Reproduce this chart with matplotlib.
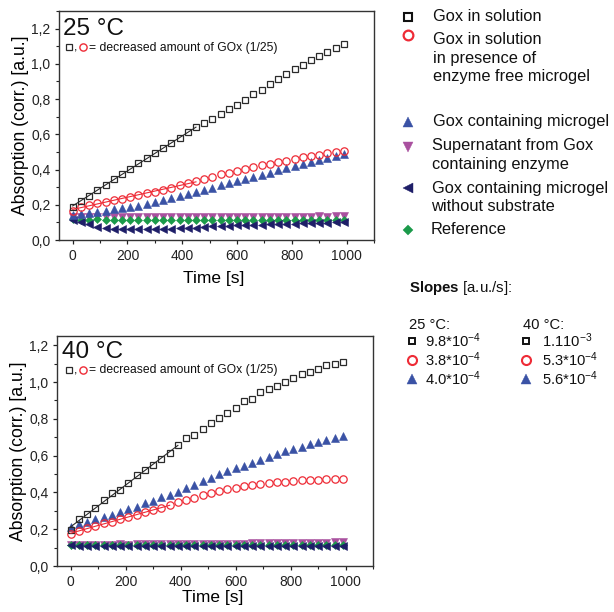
import numpy as np
import matplotlib
matplotlib.use("Agg")
import matplotlib.pyplot as plt
from matplotlib.ticker import FixedLocator, MultipleLocator

plt.rcParams['font.family'] = ['Liberation Sans', 'DejaVu Sans']
plt.rcParams['mathtext.fontset'] = 'custom'
plt.rcParams['mathtext.rm'] = 'Liberation Sans'
plt.rcParams['mathtext.bf'] = 'Liberation Sans:bold'
plt.rcParams['mathtext.default'] = 'regular'

# ---------------- data ----------------
time_s = [0, 30, 60, 90, 120, 150, 180, 210, 240, 270, 300, 330, 360, 390, 420, 450,
          480, 510, 540, 570, 600, 630, 660, 690, 720, 750, 780, 810, 840, 870, 900,
          930, 960, 990]

# 25 °C
gox_25 = [0.19, 0.224, 0.25, 0.285, 0.313, 0.345, 0.374, 0.402, 0.435, 0.463, 0.492, 0.52,
          0.55, 0.579, 0.611, 0.64, 0.664, 0.689, 0.718, 0.744, 0.769, 0.797, 0.826, 0.854,
          0.883, 0.912, 0.94, 0.968, 0.993, 1.02, 1.044, 1.07, 1.09, 1.11]
gox_free_25 = [0.167, 0.186, 0.2, 0.209, 0.218, 0.226, 0.233, 0.243, 0.256, 0.266, 0.275,
               0.285, 0.296, 0.31, 0.322, 0.335, 0.349, 0.36, 0.372, 0.38, 0.393, 0.403,
               0.412, 0.423, 0.433, 0.444, 0.45, 0.459, 0.469, 0.476, 0.484, 0.494, 0.497, 0.505]
gox_gel_25 = [0.142, 0.146, 0.153, 0.159, 0.167, 0.175, 0.18, 0.19, 0.195, 0.205, 0.215,
              0.226, 0.237, 0.247, 0.26, 0.272, 0.285, 0.298, 0.311, 0.321, 0.336, 0.345,
              0.357, 0.37, 0.383, 0.395, 0.406, 0.421, 0.431, 0.444, 0.456, 0.467, 0.478, 0.49]
super_25 = [0.128, 0.128, 0.129, 0.128, 0.129, 0.129, 0.13, 0.129, 0.13, 0.13, 0.13, 0.13,
            0.131, 0.13, 0.131, 0.131, 0.131, 0.131, 0.132, 0.131, 0.132, 0.132, 0.132, 0.132,
            0.133, 0.132, 0.133, 0.133, 0.133, 0.133, 0.134, 0.133, 0.134, 0.134]
nosub_25 = [0.114, 0.104, 0.089, 0.076, 0.066, 0.063, 0.061, 0.061, 0.061, 0.063, 0.063,
            0.065, 0.065, 0.066, 0.068, 0.07, 0.074, 0.077, 0.079, 0.081, 0.083, 0.084,
            0.086, 0.087, 0.089, 0.09, 0.092, 0.093, 0.095, 0.096, 0.098, 0.099, 0.101, 0.104]
ref_25 = [0.117, 0.116, 0.116, 0.117, 0.116, 0.116, 0.116, 0.115, 0.116, 0.116, 0.115,
          0.116, 0.116, 0.115, 0.116, 0.115, 0.115, 0.116, 0.115, 0.115, 0.116, 0.115,
          0.115, 0.115, 0.116, 0.115, 0.115, 0.114, 0.115, 0.115, 0.114, 0.115, 0.114, 0.114]

# 40 °C
gox_40 = [0.195, 0.254, 0.281, 0.317, 0.358, 0.395, 0.413, 0.449, 0.494, 0.521, 0.548,
          0.581, 0.615, 0.66, 0.693, 0.711, 0.742, 0.775, 0.805, 0.832, 0.86, 0.896, 0.91,
          0.943, 0.961, 0.979, 1.0, 1.022, 1.041, 1.055, 1.073, 1.091, 1.1, 1.106]
gox_free_40 = [0.174, 0.192, 0.205, 0.217, 0.232, 0.241, 0.254, 0.268, 0.277, 0.291, 0.304,
               0.317, 0.331, 0.346, 0.36, 0.371, 0.386, 0.398, 0.408, 0.417, 0.426, 0.434,
               0.44, 0.445, 0.45, 0.455, 0.459, 0.463, 0.465, 0.467, 0.469, 0.471, 0.472, 0.474]
gox_gel_40 = [0.213, 0.228, 0.241, 0.254, 0.264, 0.277, 0.295, 0.308, 0.322, 0.34, 0.355,
              0.373, 0.385, 0.403, 0.422, 0.44, 0.46, 0.478, 0.5, 0.515, 0.53, 0.546,
              0.562, 0.578, 0.592, 0.608, 0.623, 0.635, 0.648, 0.661, 0.672, 0.684, 0.697, 0.708]
super_40 = [0.115, 0.115, 0.116, 0.115, 0.116, 0.116, 0.117, 0.116, 0.117, 0.117, 0.118,
            0.117, 0.118, 0.118, 0.119, 0.119, 0.12, 0.12, 0.121, 0.121, 0.122, 0.122,
            0.123, 0.123, 0.124, 0.124, 0.125, 0.125, 0.126, 0.126, 0.127, 0.127, 0.128, 0.128]
nosub_40 = [0.112, 0.111, 0.111, 0.11, 0.111, 0.11, 0.111, 0.11, 0.11, 0.111, 0.11, 0.11,
            0.111, 0.11, 0.11, 0.111, 0.11, 0.11, 0.111, 0.11, 0.111, 0.11, 0.11, 0.111,
            0.11, 0.11, 0.111, 0.11, 0.11, 0.111, 0.11, 0.111, 0.11, 0.11]
ref_40 = [0.115, 0.115, 0.114, 0.115, 0.115, 0.114, 0.115, 0.115, 0.114, 0.115, 0.115,
          0.114, 0.115, 0.115, 0.114, 0.115, 0.115, 0.114, 0.115, 0.115, 0.114, 0.115,
          0.115, 0.114, 0.115, 0.115, 0.114, 0.115, 0.115, 0.114, 0.115, 0.115, 0.114, 0.114]

# number of initial points used for the linear fits
fit_points_25 = {"gox": 16, "gox_free": 16}
fit_points_40 = {"gox": 14, "gox_free": 13}

panel_titles = ["25 °C", "40 °C"]
note_text = "= decreased amount of GOx (1/25)"

y_ticks = [0.0, 0.2, 0.4, 0.6, 0.8, 1.0, 1.2]
y_tick_labels = ["0,0", "0,2", "0,4", "0,6", "0,8", "1,0", "1,2"]
x_ticks = [0, 200, 400, 600, 800, 1000]
x_tick_labels = ["0", "200", "400", "600", "800", "1000"]
x_label = "Time [s]"
y_label = "Absorption (corr.) [a.u.]"

legend_labels = ["Gox in solution",
                 "Gox in solution\nin presence of\nenzyme free microgel",
                 "Gox containing microgel",
                 "Supernatant from Gox\ncontaining enzyme",
                 "Gox containing microgel\nwithout substrate",
                 "Reference"]

slopes_title = r"$\bf{Slopes}$ [a.u./s]:"
slope_headers = ["25 °C:", "40 °C:"]
slopes_25 = [r"9.8*10$^{-4}$", r"3.8*10$^{-4}$", r"4.0*10$^{-4}$"]
slopes_40 = [r"1.110$^{-3}$", r"5.3*10$^{-4}$", r"5.6*10$^{-4}$"]

# ---------------- styles ----------------
C_BLACK = '#2a2a2a'
C_RED = '#ee2b36'
C_BLUE = '#3a52a5'
C_PURPLE = '#a9509f'
C_NAVY = '#1e1e68'
C_GREEN = '#1b9a4a'

styles = {
    "gox": dict(marker='s', mfc='none', mec=C_BLACK, ms=4.8, mew=0.9),
    "gox_free": dict(marker='o', mfc='none', mec=C_RED, ms=5.3, mew=0.9),
    "gox_gel": dict(marker='^', mfc=C_BLUE, mec=C_BLUE, ms=6.0, mew=0.4),
    "super": dict(marker='v', mfc=C_PURPLE, mec=C_PURPLE, ms=6.0, mew=0.4),
    "nosub": dict(marker='<', mfc=C_NAVY, mec=C_NAVY, ms=6.0, mew=0.4),
    "ref": dict(marker='D', mfc=C_GREEN, mec=C_GREEN, ms=4.4, mew=0.4),
}
fit_colors = {"gox": C_BLACK, "gox_free": C_RED}

W, H = 614, 612
fig = plt.figure(figsize=(W / 100, H / 100), dpi=100)


def fr(l, t, r, b):
    return [l / W, (H - b) / H, (r - l) / W, (b - t) / H]


ax1 = fig.add_axes(fr(59, 11, 374, 240))
ax2 = fig.add_axes(fr(57, 336, 373, 566))

panels = [
    (ax1, {"gox": gox_25, "gox_free": gox_free_25, "gox_gel": gox_gel_25,
           "super": super_25, "nosub": nosub_25, "ref": ref_25}, fit_points_25, 1.3),
    (ax2, {"gox": gox_40, "gox_free": gox_free_40, "gox_gel": gox_gel_40,
           "super": super_40, "nosub": nosub_40, "ref": ref_40}, fit_points_40, 1.25),
]

order = ["super", "ref", "nosub", "gox_gel", "gox_free", "gox"]
t_arr = np.array(time_s, dtype=float)
for ax, data, fits, ytop in panels:
    for key in order:
        ax.plot(time_s, data[key], linestyle='none', **styles[key])
    for key, n in fits.items():
        y = np.array(data[key])
        coef = np.polyfit(t_arr[:n], y[:n], 1)
        xs = np.array([t_arr[0], t_arr[n - 1]])
        ax.plot(xs, np.polyval(coef, xs), color=fit_colors[key], lw=0.8, zorder=3)
    ax.set_xlim(-50, 1100)
    ax.set_ylim(0, ytop)
    ax.xaxis.set_major_locator(FixedLocator(x_ticks))
    ax.set_xticklabels(x_tick_labels)
    ax.xaxis.set_minor_locator(MultipleLocator(100))
    ax.yaxis.set_major_locator(FixedLocator(y_ticks))
    ax.set_yticklabels(y_tick_labels)
    ax.yaxis.set_minor_locator(MultipleLocator(0.1))
    ax.tick_params(which='major', direction='out', length=3.2, width=0.9,
                   labelsize=10, colors='#222222', pad=3)
    ax.tick_params(which='minor', direction='out', length=2, width=0.8, colors='#222222')
    ax.tick_params(axis='x', which='both', top=False)
    ax.tick_params(axis='y', which='both', right=False)
    for s in ax.spines.values():
        s.set_linewidth(1.0)
        s.set_color('#333333')
    ax.set_xlabel(x_label, fontsize=12.5)
    ax.set_ylabel(y_label, fontsize=12.7)
    ax.yaxis.set_label_coords(-0.095, 0.5)

ax1.xaxis.set_label_coords(0.49, -0.134)
ax2.xaxis.set_label_coords(0.494, -0.104)

# ---------------- overlay (pixel coordinates) ----------------
ov = fig.add_axes([0, 0, 1, 1], zorder=10)
ov.set_xlim(0, W)
ov.set_ylim(H, 0)
ov.axis('off')
ov.patch.set_alpha(0)

# panel titles and notes
for title, (bx, by), ny in zip(panel_titles, [(63, 35), (62, 358)], [47, 370]):
    ov.text(bx, by, title, fontsize=17.5, va='baseline', ha='left', color='#111111')
    ov.plot([69], [ny], marker='s', mfc='none', mec=C_BLACK, ms=4.2, mew=0.9)
    ov.text(73.5, ny + 3.5, ",", fontsize=8.7, va='baseline', ha='left')
    ov.plot([83], [ny], marker='o', mfc='none', mec=C_RED, ms=5.2, mew=1.0)
    ov.text(89, ny + 3.5, note_text, fontsize=8.7, va='baseline', ha='left', color='#111111')

# legend
leg_markers = [
    dict(marker='s', mfc='none', mec='#111111', ms=5.5, mew=1.5),
    dict(marker='o', mfc='none', mec=C_RED, ms=7, mew=1.6),
    dict(marker='^', mfc=C_BLUE, mec=C_BLUE, ms=7, mew=0.3),
    dict(marker='v', mfc=C_PURPLE, mec=C_PURPLE, ms=7, mew=0.3),
    dict(marker='<', mfc=C_NAVY, mec=C_NAVY, ms=7, mew=0.3),
    dict(marker='D', mfc=C_GREEN, mec=C_GREEN, ms=5.5, mew=0.3),
]
leg_marker_y = [16.7, 35, 121.7, 146.5, 188.3, 230]
leg_text_y = [16.7, 40, 121.7, 145.7, 188.3, 229.3]
leg_text_x = [433, 433, 433, 432.5, 431.5, 430.5]
line_gap = 18.4
for lab, mk, my, ty, tx in zip(legend_labels, leg_markers, leg_marker_y, leg_text_y, leg_text_x):
    ov.plot([408], [my], linestyle='none', **mk)
    for i, line in enumerate(lab.split("\n")):
        ov.text(tx, ty + i * line_gap, line, fontsize=11.8, va='center', ha='left',
                color='#111111')

# slopes block
ov.text(409, 288, slopes_title, fontsize=10.8, va='center', ha='left', color='#111111')
ov.text(409, 325, slope_headers[0], fontsize=10.6, va='center', ha='left', color='#111111')
ov.text(523, 325, slope_headers[1], fontsize=10.6, va='center', ha='left', color='#111111')
slope_markers = [
    dict(marker='s', mfc='none', mec='#111111', ms=5, mew=1.4),
    dict(marker='o', mfc='none', mec=C_RED, ms=6.5, mew=1.5),
    dict(marker='^', mfc=C_BLUE, mec=C_BLUE, ms=7, mew=0.3),
]
row_y = [341, 360, 379]
for mk, ry, s25, s40 in zip(slope_markers, row_y, slopes_25, slopes_40):
    ov.plot([411.7], [ry], linestyle='none', **mk)
    ov.plot([525.7], [ry], linestyle='none', **mk)
    ov.text(425, ry, s25, fontsize=10.6, va='center', ha='left', color='#111111')
    ov.text(542, ry, s40, fontsize=10.6, va='center', ha='left', color='#111111')

fig.savefig("out.png", dpi=100)
